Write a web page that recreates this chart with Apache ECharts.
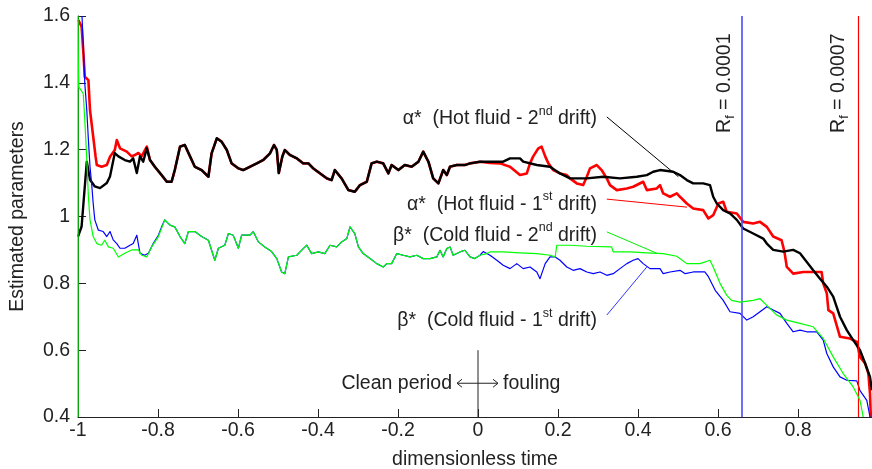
<!DOCTYPE html>
<html>
<head>
<meta charset="utf-8">
<script src="https://cdn.jsdelivr.net/npm/echarts@6/dist/echarts.min.js"></script>
<style>
  html, body { margin: 0; padding: 0; background: #ffffff; }
  #chart { width: 872px; height: 469px; }
</style>
</head>
<body>
<div id="chart"></div>
<script>
// Axis ranges
const xMin = -1, xMax = 0.985, xStep = 0.2;
const yMin = 0.4, yMax = 1.6, yStep = 0.2;

// α* (hot fluid), 1st drift: start-up transient before it joins the 2nd drift estimate
const alphaHot1Start = [
  [-0.999, 1.588], [-0.991, 1.568], [-0.987, 1.498], [-0.983, 1.418], [-0.974, 1.408],
  [-0.970, 1.318], [-0.962, 1.239], [-0.956, 1.179], [-0.953, 1.154], [-0.941, 1.149],
  [-0.928, 1.154], [-0.920, 1.179], [-0.908, 1.199], [-0.903, 1.229], [-0.895, 1.204],
  [-0.878, 1.194], [-0.866, 1.180], [-0.858, 1.184], [-0.849, 1.190], [-0.841, 1.180],
  [-0.828, 1.209]
];
// α* (hot fluid), 2nd drift: start-up transient
const alphaHot2Start = [
  [-1.000, 0.940], [-0.991, 0.970], [-0.987, 1.030], [-0.978, 1.164], [-0.970, 1.110],
  [-0.958, 1.090], [-0.945, 1.085], [-0.928, 1.100], [-0.920, 1.120], [-0.908, 1.190],
  [-0.899, 1.180], [-0.883, 1.169], [-0.870, 1.164], [-0.862, 1.174], [-0.853, 1.130],
  [-0.845, 1.180], [-0.837, 1.164], [-0.828, 1.204]
];
// α* estimates while both drifts coincide (clean period)
const alphaShared = [
  [-0.820, 1.169], [-0.808, 1.149], [-0.791, 1.124], [-0.778, 1.104], [-0.766, 1.104],
  [-0.758, 1.139], [-0.745, 1.209], [-0.733, 1.214], [-0.720, 1.180], [-0.708, 1.149],
  [-0.691, 1.139], [-0.674, 1.119], [-0.666, 1.189], [-0.653, 1.234], [-0.641, 1.224],
  [-0.628, 1.199], [-0.616, 1.159], [-0.599, 1.144], [-0.587, 1.139], [-0.570, 1.149],
  [-0.553, 1.159], [-0.537, 1.169], [-0.520, 1.189], [-0.510, 1.214], [-0.503, 1.199],
  [-0.498, 1.130], [-0.489, 1.180], [-0.483, 1.199], [-0.470, 1.184], [-0.453, 1.174],
  [-0.437, 1.159], [-0.424, 1.159], [-0.412, 1.144], [-0.395, 1.129], [-0.378, 1.114],
  [-0.366, 1.109], [-0.358, 1.139], [-0.341, 1.114], [-0.324, 1.079], [-0.308, 1.074],
  [-0.295, 1.094], [-0.278, 1.104], [-0.266, 1.159], [-0.253, 1.164], [-0.237, 1.159],
  [-0.224, 1.129], [-0.216, 1.154], [-0.199, 1.139], [-0.183, 1.154], [-0.166, 1.149],
  [-0.149, 1.164], [-0.137, 1.194], [-0.124, 1.164], [-0.112, 1.114], [-0.099, 1.099],
  [-0.087, 1.139], [-0.078, 1.124], [-0.070, 1.149], [-0.053, 1.154], [-0.033, 1.154],
  [-0.020, 1.159], [0.005, 1.164]
];
// α* (hot fluid), 1st drift: fouling period
const alphaHot1End = [
  [0.030, 1.160], [0.055, 1.159], [0.080, 1.149], [0.105, 1.124], [0.122, 1.129],
  [0.130, 1.159], [0.138, 1.180], [0.151, 1.204], [0.159, 1.209], [0.168, 1.180],
  [0.176, 1.159], [0.188, 1.139], [0.205, 1.129], [0.222, 1.124], [0.230, 1.114],
  [0.247, 1.099], [0.263, 1.094], [0.272, 1.119], [0.280, 1.144], [0.297, 1.154],
  [0.309, 1.139], [0.322, 1.114], [0.330, 1.094], [0.347, 1.079], [0.372, 1.084],
  [0.388, 1.089], [0.413, 1.104], [0.422, 1.079], [0.447, 1.084], [0.455, 1.094],
  [0.463, 1.069], [0.480, 1.059], [0.497, 1.069], [0.505, 1.059], [0.522, 1.039],
  [0.538, 1.024], [0.563, 1.019], [0.576, 0.994], [0.588, 1.004], [0.601, 1.039],
  [0.613, 1.044], [0.622, 1.014], [0.647, 1.009], [0.663, 0.984], [0.688, 0.979],
  [0.705, 0.984], [0.722, 0.969], [0.738, 0.940], [0.759, 0.929], [0.766, 0.895],
  [0.772, 0.849], [0.788, 0.829], [0.813, 0.834], [0.859, 0.834], [0.863, 0.800],
  [0.872, 0.770], [0.876, 0.720], [0.888, 0.710], [0.905, 0.640], [0.930, 0.635],
  [0.947, 0.625], [0.955, 0.580], [0.968, 0.560], [0.976, 0.530], [0.980, 0.470],
  [0.982, 0.400]
];
// α* (hot fluid), 2nd drift: fouling period
const alphaHot2End = [
  [0.022, 1.164], [0.063, 1.164], [0.080, 1.174], [0.105, 1.174], [0.113, 1.164],
  [0.147, 1.154], [0.180, 1.149], [0.205, 1.129], [0.230, 1.114], [0.272, 1.114],
  [0.313, 1.119], [0.355, 1.114], [0.397, 1.119], [0.422, 1.124], [0.438, 1.134],
  [0.455, 1.139], [0.488, 1.134], [0.505, 1.124], [0.522, 1.109], [0.538, 1.099],
  [0.563, 1.099], [0.580, 1.094], [0.588, 1.059], [0.597, 1.039], [0.613, 1.019],
  [0.630, 1.009], [0.647, 0.990], [0.663, 0.964], [0.688, 0.949], [0.713, 0.934],
  [0.722, 0.919], [0.738, 0.900], [0.763, 0.895], [0.788, 0.900], [0.805, 0.890],
  [0.822, 0.864], [0.838, 0.839], [0.855, 0.814], [0.872, 0.790], [0.888, 0.760],
  [0.905, 0.700], [0.922, 0.660], [0.938, 0.630], [0.955, 0.600], [0.968, 0.560],
  [0.980, 0.520], [0.985, 0.480]
];

// β* (cold fluid), 1st drift: start-up transient
const betaCold1Start = [
  [-0.990, 1.600], [-0.987, 1.518], [-0.983, 1.398], [-0.978, 1.318], [-0.974, 1.229],
  [-0.970, 1.149], [-0.966, 1.100], [-0.962, 1.039], [-0.958, 0.990], [-0.949, 0.959],
  [-0.937, 0.955], [-0.928, 0.940], [-0.920, 0.955], [-0.912, 0.930], [-0.903, 0.919],
  [-0.895, 0.905], [-0.883, 0.905], [-0.870, 0.914], [-0.862, 0.919], [-0.853, 0.944],
  [-0.845, 0.890], [-0.833, 0.884], [-0.824, 0.890], [-0.812, 0.919], [-0.799, 0.944],
  [-0.791, 0.969]
];
// β* (cold fluid), 2nd drift: start-up transient
const betaCold2Start = [
  [-1.000, 0.400], [-1.000, 1.600], [-0.999, 1.448], [-0.998, 1.388], [-0.987, 1.368],
  [-0.983, 1.289], [-0.978, 1.169], [-0.974, 1.059], [-0.970, 0.990], [-0.962, 0.940],
  [-0.953, 0.919], [-0.941, 0.914], [-0.933, 0.929], [-0.924, 0.909], [-0.912, 0.905],
  [-0.899, 0.879], [-0.883, 0.890], [-0.866, 0.900], [-0.849, 0.900], [-0.841, 0.884],
  [-0.828, 0.879], [-0.816, 0.909], [-0.799, 0.940]
];
// β* estimates while both drifts coincide (clean period)
const betaShared = [
  [-0.783, 0.990], [-0.770, 0.974], [-0.758, 0.969], [-0.745, 0.940], [-0.733, 0.919],
  [-0.724, 0.955], [-0.708, 0.955], [-0.691, 0.940], [-0.674, 0.929], [-0.658, 0.869],
  [-0.649, 0.905], [-0.633, 0.914], [-0.624, 0.949], [-0.612, 0.944], [-0.599, 0.905],
  [-0.591, 0.944], [-0.570, 0.944], [-0.562, 0.955], [-0.549, 0.924], [-0.533, 0.909],
  [-0.516, 0.895], [-0.503, 0.874], [-0.491, 0.834], [-0.483, 0.829], [-0.474, 0.879],
  [-0.453, 0.884], [-0.437, 0.904], [-0.428, 0.914], [-0.416, 0.889], [-0.399, 0.894],
  [-0.383, 0.889], [-0.370, 0.914], [-0.353, 0.909], [-0.341, 0.924], [-0.328, 0.934],
  [-0.320, 0.969], [-0.308, 0.949], [-0.299, 0.909], [-0.287, 0.889], [-0.270, 0.874],
  [-0.253, 0.859], [-0.237, 0.849], [-0.228, 0.859], [-0.216, 0.859], [-0.203, 0.889],
  [-0.187, 0.884], [-0.170, 0.879], [-0.153, 0.884], [-0.137, 0.874], [-0.120, 0.874],
  [-0.103, 0.879], [-0.095, 0.899], [-0.087, 0.879], [-0.078, 0.904], [-0.070, 0.909],
  [-0.062, 0.884], [-0.045, 0.894], [-0.033, 0.899], [-0.020, 0.879], [-0.008, 0.874],
  [0.005, 0.884]
];
// β* (cold fluid), 1st drift: fouling period
const betaCold1End = [
  [0.013, 0.895], [0.030, 0.884], [0.047, 0.869], [0.063, 0.854], [0.080, 0.844],
  [0.097, 0.859], [0.113, 0.844], [0.130, 0.849], [0.147, 0.834], [0.155, 0.814],
  [0.168, 0.859], [0.180, 0.879], [0.193, 0.879], [0.205, 0.869], [0.222, 0.849],
  [0.238, 0.839], [0.255, 0.844], [0.272, 0.834], [0.288, 0.829], [0.305, 0.834],
  [0.322, 0.824], [0.338, 0.829], [0.355, 0.844], [0.372, 0.859], [0.388, 0.869],
  [0.400, 0.874], [0.413, 0.859], [0.430, 0.844], [0.455, 0.844], [0.463, 0.829],
  [0.480, 0.834], [0.505, 0.839], [0.518, 0.829], [0.538, 0.834], [0.567, 0.834],
  [0.576, 0.820], [0.593, 0.779], [0.613, 0.749], [0.630, 0.715], [0.655, 0.710],
  [0.672, 0.690], [0.688, 0.700], [0.705, 0.715], [0.722, 0.730], [0.738, 0.720],
  [0.755, 0.710], [0.772, 0.680], [0.788, 0.655], [0.805, 0.660], [0.822, 0.655],
  [0.847, 0.655], [0.863, 0.630], [0.872, 0.590], [0.888, 0.550], [0.905, 0.520],
  [0.922, 0.510], [0.947, 0.508], [0.955, 0.479], [0.972, 0.450], [0.980, 0.400]
];
// β* (cold fluid), 2nd drift: fouling period
const betaCold2End = [
  [0.022, 0.889], [0.030, 0.894], [0.063, 0.894], [0.105, 0.891], [0.147, 0.889],
  [0.180, 0.884], [0.193, 0.879], [0.197, 0.914], [0.230, 0.914], [0.272, 0.911],
  [0.334, 0.909], [0.338, 0.894], [0.380, 0.894], [0.422, 0.891], [0.463, 0.889],
  [0.497, 0.881], [0.522, 0.859], [0.555, 0.859], [0.580, 0.869], [0.588, 0.849],
  [0.605, 0.800], [0.622, 0.764], [0.634, 0.749], [0.655, 0.744], [0.688, 0.749],
  [0.705, 0.754], [0.722, 0.734], [0.747, 0.705], [0.772, 0.690], [0.805, 0.680],
  [0.838, 0.670], [0.863, 0.635], [0.888, 0.580], [0.913, 0.530], [0.938, 0.490],
  [0.955, 0.450], [0.963, 0.400]
];

// Fouling resistance thresholds (dimensionless time where they are reached)
const thresholdTimes = [0.664, 0.949];
const thresholdLabels = ['0.0001', '0.0007'];

const alphaHot1 = alphaHot1Start.concat(alphaShared, alphaHot1End);
const alphaHot2 = alphaHot2Start.concat(alphaShared, alphaHot2End);
const betaCold1 = betaCold1Start.concat(betaShared, betaCold1End);
const betaCold2 = betaCold2Start.concat(betaShared, betaCold2End);

const FONT = 'Liberation Sans, Arial, sans-serif';
const FS = 19.5;
const TXT = '#222222';

const chart = echarts.init(document.getElementById('chart'), null, { renderer: 'canvas' });

function lineSeries(name, data, color, width, z) {
  return {
    name, type: 'line', data, z,
    showSymbol: false, symbol: 'none', smooth: false,
    lineStyle: { color, width, join: 'round' },
    emphasis: { disabled: true }
  };
}

const series = [
  lineSeries('α* 1st drift', alphaHot1, '#ff0000', 2.6, 2),
  lineSeries('α* 2nd drift', alphaHot2, '#000000', 2.4, 3),
  lineSeries('β* 1st drift', betaCold1, '#0000ff', 1.2, 4),
  lineSeries('β* 2nd drift', betaCold2, '#00ff00', 1.2, 5)
];
series[0].markLine = {
  silent: true, symbol: 'none', label: { show: false },
  data: [
    { xAxis: thresholdTimes[0], lineStyle: { color: '#4a4aff', width: 1.6, type: 'solid' } },
    { xAxis: thresholdTimes[1], lineStyle: { color: '#ff0000', width: 1.2, type: 'solid' } }
  ]
};

chart.setOption({
  animation: false,
  backgroundColor: '#ffffff',
  grid: { left: 78, right: 0, top: 16, bottom: 52, outerBoundsMode: 'none', containLabel: false },
  xAxis: {
    type: 'value', min: xMin, max: xMax, interval: xStep,
    name: 'dimensionless time', nameLocation: 'middle', nameGap: 33,
    nameTextStyle: { fontFamily: FONT, fontSize: FS, color: TXT },
    axisLine: { onZero: false, lineStyle: { color: '#222', width: 1 } },
    axisTick: { inside: true, length: 8, lineStyle: { color: '#222' } },
    axisLabel: { fontFamily: FONT, fontSize: FS, color: TXT, margin: 4, showMaxLabel: false,
      formatter: v => (Math.abs(v) < 1e-9 ? '0' : String(+v.toFixed(1))) },
    splitLine: { show: false }
  },
  yAxis: {
    type: 'value', min: yMin, max: yMax, interval: yStep,
    name: 'Estimated parameters', nameLocation: 'middle', nameGap: 50, nameRotate: 90,
    nameTextStyle: { fontFamily: FONT, fontSize: FS, color: TXT },
    axisLine: { show: true, onZero: false, lineStyle: { color: '#222', width: 1 } },
    axisTick: { show: true, inside: true, length: 8, lineStyle: { color: '#222' } },
    axisLabel: { fontFamily: FONT, fontSize: FS, color: TXT, margin: 8,
      formatter: v => String(+v.toFixed(1)) },
    splitLine: { show: false }
  },
  series
});

// Annotations placed in data coordinates
const P = p => chart.convertToPixel({ gridIndex: 0 }, p);

const annotations = [
  { greek: 'α*', fluid: 'Hot fluid', ord: '2', sup: 'nd', at: [0.2975, 1.298],
    from: [0.322, 1.298], to: [0.501, 1.119], color: '#000000' },
  { greek: 'α*', fluid: 'Hot fluid', ord: '1', sup: 'st', at: [0.2975, 1.042],
    from: [0.322, 1.052], to: [0.5225, 1.028], color: '#ff0000' },
  { greek: 'β*', fluid: 'Cold fluid', ord: '2', sup: 'nd', at: [0.2975, 0.950],
    from: [0.322, 0.954], to: [0.447, 0.890], color: '#00ee00' },
  { greek: 'β*', fluid: 'Cold fluid', ord: '1', sup: 'st', at: [0.2975, 0.693],
    from: [0.322, 0.705], to: [0.422, 0.849], color: '#3333ff' }
];

const graphic = [];
annotations.forEach(a => {
  const t = P(a.at);
  graphic.push({
    type: 'text', x: t[0], y: t[1], z: 20,
    style: {
      text: '{m|' + a.greek + '  (' + a.fluid + ' - ' + a.ord + '}{s|' + a.sup + '}{m| drift)}',
      align: 'right', verticalAlign: 'middle',
      rich: {
        m: { fontFamily: FONT, fontSize: FS, fill: TXT, lineHeight: 24, verticalAlign: 'bottom' },
        s: { fontFamily: FONT, fontSize: 12.5, fill: TXT, lineHeight: 13, verticalAlign: 'top' }
      }
    }
  });
  const f = P(a.from), e = P(a.to);
  graphic.push({
    type: 'line', z: 20,
    shape: { x1: f[0], y1: f[1], x2: e[0], y2: e[1] },
    style: { stroke: a.color, lineWidth: 1 }
  });
});

// Rotated threshold labels next to the vertical lines
thresholdTimes.forEach((tx, i) => {
  const c = P([tx - 0.044, 1.399]);
  graphic.push({
    type: 'text', x: c[0], y: c[1], rotation: Math.PI / 2, z: 20,
    style: {
      text: '{m|R}{s|f}{m| = ' + thresholdLabels[i] + '}',
      align: 'center', verticalAlign: 'middle',
      rich: {
        m: { fontFamily: FONT, fontSize: FS, fill: TXT, lineHeight: 22, verticalAlign: 'top' },
        s: { fontFamily: FONT, fontSize: 12.5, fill: TXT, lineHeight: 13, verticalAlign: 'bottom' }
      }
    }
  });
});

// Clean period / fouling marker at t = 0
const m0 = P([0, 0.6]), m1 = P([0, yMin]);
graphic.push({ type: 'line', z: 20, shape: { x1: m0[0], y1: m0[1], x2: m1[0], y2: m1[1] },
  style: { stroke: '#222', lineWidth: 1 } });
const ay = P([0, 0.501])[1];
const aL = P([-0.0525, 0])[0], aR = P([0.05, 0])[0], a0 = P([0, 0])[0];
const arrowStyle = { stroke: '#222', lineWidth: 1, fill: null };
graphic.push({ type: 'polyline', z: 20, shape: { points: [[a0, ay], [aL, ay]] }, style: arrowStyle });
graphic.push({ type: 'polyline', z: 20, shape: { points: [[aL + 5, ay - 4], [aL, ay], [aL + 5, ay + 4]] }, style: arrowStyle });
graphic.push({ type: 'polyline', z: 20, shape: { points: [[a0, ay], [aR, ay]] }, style: arrowStyle });
graphic.push({ type: 'polyline', z: 20, shape: { points: [[aR - 5, ay - 4], [aR, ay], [aR - 5, ay + 4]] }, style: arrowStyle });
const cl = P([-0.065, 0.501]), fo = P([0.0625, 0.501]);
graphic.push({ type: 'text', x: cl[0], y: cl[1], z: 20,
  style: { text: 'Clean period', align: 'right', verticalAlign: 'middle', fontFamily: FONT, fontSize: FS, fill: TXT } });
graphic.push({ type: 'text', x: fo[0], y: fo[1], z: 20,
  style: { text: 'fouling', align: 'left', verticalAlign: 'middle', fontFamily: FONT, fontSize: FS, fill: TXT } });

chart.setOption({ graphic });
</script>
</body>
</html>
